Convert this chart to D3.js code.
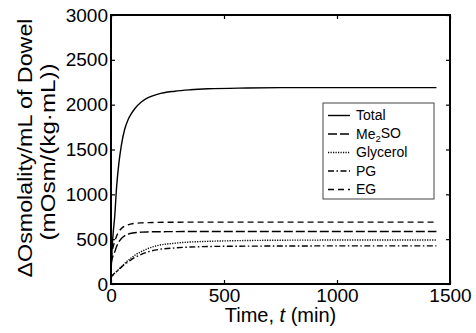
<!DOCTYPE html>
<html>
<head>
<meta charset="utf-8">
<script src="https://cdn.jsdelivr.net/npm/d3@7"></script>
<style>
  body { margin: 0; background: #fff; }
  svg { display: block; font-family: "Liberation Sans", Arial, sans-serif; }
  .axis path { display: none; }
  .axis line { stroke: #000; stroke-width: 1.2; }
  .axis text { font-size: 19px; fill: #000; }
  .curve { fill: none; stroke: #000; stroke-width: 1.4; }
</style>
</head>
<body>
<div id="chart"></div>
<script>
// time in minutes, values in mOsm/(kg·mL)
const times = [0, 5, 10, 16, 25, 35, 46, 60, 75, 90, 105, 134, 164, 208, 282, 350, 429, 600, 800, 1000, 1200, 1440];
const total =    [120, 400, 580, 740, 1090, 1350, 1550, 1720, 1830, 1900, 1955, 2030, 2078, 2118, 2150, 2166, 2177, 2186, 2190, 2190, 2190, 2190];
const me2so =    [220, 280, 320, 355, 420, 470, 508, 537, 556, 566, 572, 578, 581, 583, 584, 585, 585, 585, 585, 585, 585, 585];
const glycerol = [70, 90, 105, 120, 140, 165, 192, 228, 262, 292, 320, 362, 396, 430, 455, 468, 476, 485, 489, 490, 490, 490];
const pg =       [70, 90, 105, 120, 140, 163, 188, 218, 246, 271, 295, 330, 358, 384, 402, 412, 418, 422, 424, 425, 425, 425];
const eg =       [280, 360, 420, 472, 535, 585, 620, 645, 660, 670, 676, 682, 685, 687, 689, 690, 690, 690, 690, 690, 690, 690];

const seriesNames = ['Total', 'Me2SO', 'Glycerol', 'PG', 'EG'];
const seriesValues = [total, me2so, glycerol, pg, eg];
const dashes = [null, '9,3', '1.2,1.3', '6,2.5,1.5,2.5', '6,4'];

const xTicks = [0, 500, 1000, 1500];
const yTicks = [0, 500, 1000, 1500, 2000, 2500, 3000];

const W = 476, H = 333;
const margin = { top: 15, right: 26, bottom: 49, left: 111 };
const width = W - margin.left - margin.right,
  height = H - margin.top - margin.bottom;

const svg = d3.select('#chart').append('svg')
  .attr('width', W)
  .attr('height', H);

const g = svg.append('g')
  .attr('transform', `translate(${margin.left},${margin.top})`);

const x = d3.scaleLinear().domain([0, 1500]).range([0, width]);
const y = d3.scaleLinear().domain([0, 3000]).range([height, 0]);
const fmt = d3.format('d');

// curves
const line = d3.line()
  .x((d) => x(d[0]))
  .y((d) => y(d[1]))
  .curve(d3.curveMonotoneX);

seriesValues.forEach((vals, i) => {
  g.append('path')
    .datum(times.map((t, j) => [t, vals[j]]))
    .attr('class', 'curve')
    .attr('stroke-dasharray', dashes[i])
    .attr('d', line);
});

// axes with inward ticks on all four sides
g.append('g')
  .attr('class', 'axis')
  .attr('transform', `translate(0,${height})`)
  .call(d3.axisBottom(x).tickValues(xTicks).tickFormat(fmt).tickSizeInner(-4).tickSizeOuter(0).tickPadding(5));

g.append('g')
  .attr('class', 'axis')
  .call(d3.axisTop(x).tickValues(xTicks).tickSizeInner(-4).tickSizeOuter(0).tickFormat(''));

g.append('g')
  .attr('class', 'axis')
  .call(d3.axisLeft(y).tickValues(yTicks).tickFormat(fmt).tickSizeInner(-4).tickSizeOuter(0).tickPadding(3));

g.append('g')
  .attr('class', 'axis')
  .attr('transform', `translate(${width},0)`)
  .call(d3.axisRight(y).tickValues(yTicks).tickSizeInner(-4).tickSizeOuter(0).tickFormat(''));

// frame
g.append('rect')
  .attr('width', width)
  .attr('height', height)
  .attr('fill', 'none')
  .attr('stroke', '#000')
  .attr('stroke-width', 2);

// axis titles
const xTitle = svg.append('text')
  .attr('x', margin.left + width / 2)
  .attr('y', 322)
  .attr('text-anchor', 'middle')
  .attr('font-size', 20);
xTitle.append('tspan').text('Time, ');
xTitle.append('tspan').attr('font-style', 'italic').text('t');
xTitle.append('tspan').text(' (min)');

svg.append('text')
  .attr('transform', 'translate(32,148) rotate(-90)')
  .attr('text-anchor', 'middle')
  .attr('font-size', 21)
  .attr('textLength', 259)
  .attr('lengthAdjust', 'spacingAndGlyphs')
  .text('ΔOsmolality/mL of Dowel');

svg.append('text')
  .attr('transform', 'translate(55,152) rotate(-90)')
  .attr('text-anchor', 'middle')
  .attr('font-size', 21)
  .attr('textLength', 177)
  .attr('lengthAdjust', 'spacingAndGlyphs')
  .text('(mOsm/(kg·mL))');

// legend
const legend = svg.append('g').attr('transform', 'translate(323,103)');
legend.append('rect')
  .attr('width', 111)
  .attr('height', 96)
  .attr('fill', '#fff')
  .attr('stroke', '#444')
  .attr('stroke-width', 1);

seriesNames.forEach((name, i) => {
  const row = legend.append('g').attr('transform', `translate(0,${12.5 + i * 18.5})`);
  row.append('line')
    .attr('x1', 5).attr('x2', 27)
    .attr('stroke', '#000')
    .attr('stroke-width', 1.4)
    .attr('stroke-dasharray', dashes[i]);
  const t = row.append('text')
    .attr('x', 33)
    .attr('dy', '0.35em')
    .attr('font-size', 14);
  if (name === 'Me2SO') {
    t.append('tspan').text('Me');
    t.append('tspan').attr('font-size', 9.5).attr('dy', '0.3em').text('2');
    t.append('tspan').attr('dy', '-0.3em').text('SO');
  } else {
    t.text(name);
  }
});
</script>
</body>
</html>
